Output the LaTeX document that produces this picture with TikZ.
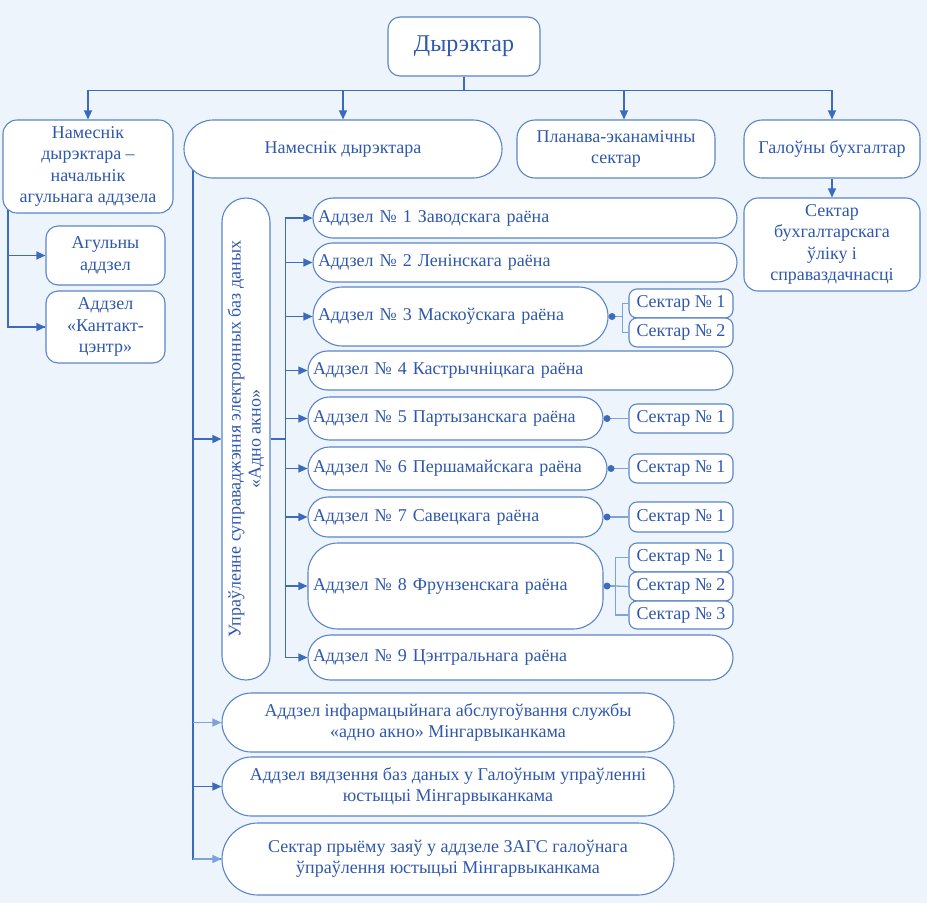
\documentclass[tikz,border=0pt]{standalone}
\usepackage{fontspec}
\setmainfont{Liberation Serif}
\usetikzlibrary{arrows.meta}
\pgfdeclarelayer{bg}\pgfdeclarelayer{edges}
\pgfsetlayers{bg,edges,main}
\definecolor{bgc}{HTML}{EEF4FB}
\definecolor{linec}{HTML}{3C6BBE}
\definecolor{boxc}{HTML}{5A85C9}
\definecolor{txtc}{HTML}{2F58AD}
\definecolor{lightc}{HTML}{7EA3D9}
\begin{document}
\begin{tikzpicture}[x=1pt,y=-1pt,
  sz/.style 2 args={minimum width=#1pt, minimum height=#2pt},
  box/.style={draw=boxc, line width=1.1pt, fill=white, text=txtc,
    font=\fontsize{18}{21.5}\selectfont, align=center, inner sep=0pt},
  abox/.style={box, align=left, inner xsep=5pt, text width=#1pt},
  ln/.style={draw=linec, line width=1.3pt},
  lnl/.style={draw=lightc, line width=1.3pt},
  ar/.style={ln, -{Triangle[length=9pt,width=8pt]}},
  arl/.style={draw=lightc, line width=1.3pt, -{Triangle[length=9pt,width=8pt,fill=lightc]}},
  dot/.style={fill=linec}]
\useasboundingbox (0,0) rectangle (927,903);
\begin{pgfonlayer}{bg}
\fill[bgc] (0,0) rectangle (927,903);
\end{pgfonlayer}

% top level
\node[box, sz={152}{59}, rounded corners=12pt, font=\fontsize{24}{28}\selectfont] (dir) at (464,46.5) {Дырэктар};
\node[box, sz={170}{93}, rounded corners=14pt] (n1) at (88,166.5) {Намеснік\\дырэктара –\\начальнік\\агульнага аддзела};
\node[box, sz={318}{58}, rounded corners=29pt] (n2) at (343,149) {Намеснік дырэктара};
\node[box, sz={198}{58}, rounded corners=18pt] (n3) at (616,149) {Планава-эканамічны\\сектар};
\node[box, sz={176}{58}, rounded corners=18pt] (n4) at (832,149) {Галоўны бухгалтар};
\node[box, sz={176}{93}, rounded corners=14pt] (n5) at (832,244.5) {Сектар\\бухгалтарскага\\ўліку і\\справаздачнасці};

% left branch
\node[box, sz={119}{59}, rounded corners=12pt] (ag) at (105.5,255.5) {Агульны\\аддзел};
\node[box, sz={119}{72}, rounded corners=12pt] (kc) at (105.5,327) {Аддзел\\«Кантакт-\\цэнтр»};

% vertical management box
\node[box, rotate=90, sz={482}{48}, rounded corners=24pt, font=\fontsize{18}{20}\selectfont] (upr) at (246,439)
  {Упраўленне суправаджэння электронных баз даных\\«Адно акно»};

% district departments
\node[abox=414, sz={424}{40}, rounded corners=20pt] (a1) at (525,218) {Аддзел № 1 Заводскага раёна};
\node[abox=414, sz={424}{39}, rounded corners=19.5pt] (a2) at (525,262.5) {Аддзел № 2 Ленінскага раёна};
\node[abox=285, sz={295}{59}, rounded corners=29.5pt] (a3) at (460.5,316.5) {Аддзел № 3 Маскоўскага раёна};
\node[abox=415, sz={425}{39}, rounded corners=19.5pt] (a4) at (520.5,370.5) {Аддзел № 4 Кастрычніцкага раёна};
\node[abox=285, sz={295}{43}, rounded corners=21.5pt] (a5) at (455.5,418.5) {Аддзел № 5 Партызанскага раёна};
\node[abox=289, sz={299}{43}, rounded corners=21.5pt] (a6) at (457.5,468.5) {Аддзел № 6 Першамайскага раёна};
\node[abox=285, sz={295}{40}, rounded corners=20pt] (a7) at (455.5,517) {Аддзел № 7 Савецкага раёна};
\node[abox=285, sz={295}{86}, rounded corners=30pt] (a8) at (455.5,586) {Аддзел № 8 Фрунзенскага раёна};
\node[abox=415, sz={425}{45}, rounded corners=22.5pt] (a9) at (520.5,657.5) {Аддзел № 9 Цэнтральнага раёна};

% sectors
\node[box, sz={104}{29}, rounded corners=8pt] (s31) at (681,303.5) {Сектар № 1};
\node[box, sz={104}{29}, rounded corners=8pt] (s32) at (681,332.5) {Сектар № 2};
\node[box, sz={104}{29}, rounded corners=8pt] (s51) at (681,418.5) {Сектар № 1};
\node[box, sz={104}{29}, rounded corners=8pt] (s61) at (681,468.5) {Сектар № 1};
\node[box, sz={104}{30}, rounded corners=8pt] (s71) at (681,517) {Сектар № 1};
\node[box, sz={104}{29}, rounded corners=8pt] (s81) at (681,557.5) {Сектар № 1};
\node[box, sz={104}{29}, rounded corners=8pt] (s82) at (681,586.5) {Сектар № 2};
\node[box, sz={104}{28}, rounded corners=8pt] (s83) at (681,615) {Сектар № 3};

% bottom departments
\node[box, sz={452}{59}, rounded corners=29.5pt] (b1) at (448,722.5) {Аддзел інфармацыйнага абслугоўвання службы\\«адно акно» Мінгарвыканкама};
\node[box, sz={452}{59}, rounded corners=29.5pt] (b2) at (448,786.5) {Аддзел вядзення баз даных у Галоўным упраўленні\\юстыцыі Мінгарвыканкама};
\node[box, sz={452}{72}, rounded corners=36pt] (b3) at (448,859) {Сектар прыёму заяў у аддзеле ЗАГС галоўнага\\ўпраўлення юстыцыі Мінгарвыканкама};

\begin{pgfonlayer}{edges}
% director
\draw[ln] (dir.south) -- ++(0,14) coordinate (hb);
\draw[ar] (hb) -| (n1.north);
\draw[ar] (hb) -| (n2.north);
\draw[ar] (hb) -| ([xshift=8pt]n3.north);
\draw[ar] (hb) -| (n4.north);
\draw[ar] (n4.south) -- (n5.north);
% left branch
\coordinate (lv) at ([xshift=-80pt]n1.center);
\draw[ln] (lv) |- (kc.west);
\draw[ar] (lv |- ag.west) -- (ag.west);
\draw[ar] (lv |- kc.west) -- (kc.west);
% deputy branch
\coordinate (nv) at ([xshift=-150pt]n2.center);
\draw[ln] (nv) |- (b3.west);
\draw[ar] (nv |- upr.north) -- (upr.north);
\draw[arl] (nv |- b1.west) -- (b1.west);
\draw[ar] (nv |- b2.west) -- (b2.west);
\draw[arl] (nv |- b3.west) -- (b3.west);
% bus
\coordinate (bus) at ([xshift=15pt]upr.south);
\draw[ln] (upr.south) -- (bus);
\foreach \a in {a1,a2,a3,a4,a5,a6,a7,a8,a9}{
  \draw[ar] (bus) |- (\a.west);
}
% sectors
\coordinate (j3) at ([xshift=14pt]a3.east);
\draw[lnl] (a3.east) -- (j3) |- (s31.west);
\draw[lnl] (j3) |- (s32.west);
\draw[lnl] (a5.east) -- (s51.west);
\draw[lnl] (a6.east) -- (s61.west);
\draw[lnl] (a7.east) -- (s71.west);
\coordinate (j8) at ([xshift=12pt]a8.east);
\draw[lnl] (a8.east) -- (j8) |- (s81.west);
\draw[lnl] (j8) -- (s82.west);
\draw[lnl] (j8) |- (s83.west);
\end{pgfonlayer}
% dots
\foreach \a in {a3,a5,a6,a7,a8}{
  \fill[dot] ([xshift=3.5pt]\a.east) circle (3.5pt);
}
\end{tikzpicture}
\end{document}
